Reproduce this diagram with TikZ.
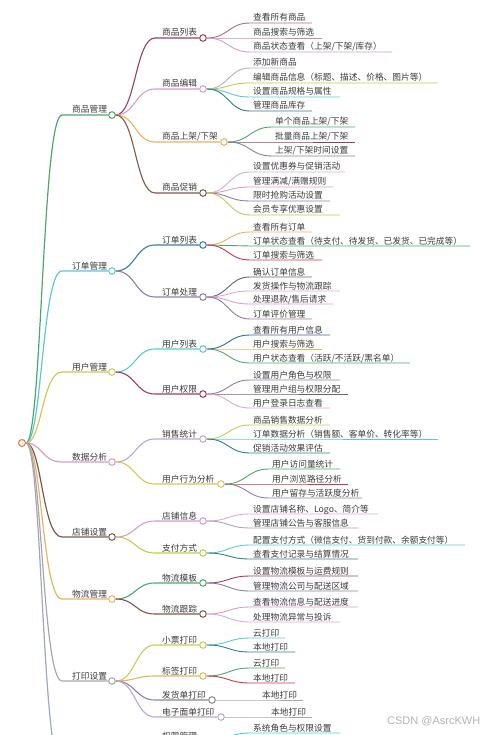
\documentclass[tikz,border=0pt]{standalone}
\usepackage{fontspec}
\newfontfamily\cjk{Noto Sans CJK SC}
\setsansfont{Liberation Sans}
\usetikzlibrary{calc}
\definecolor{txt}{HTML}{3A3A3A}
\definecolor{wm}{HTML}{B4B4B4}
\definecolor{mGreen}{HTML}{4CA86A}
\definecolor{mCyan}{HTML}{5BC8D8}
\definecolor{mYellow}{HTML}{C9CC52}
\definecolor{mPink}{HTML}{D99BC9}
\definecolor{mBrown}{HTML}{7A5A48}
\definecolor{mOrange}{HTML}{E8B35A}
\definecolor{mGrey}{HTML}{A8A8A8}
\definecolor{mBlueGrey}{HTML}{A0A8C0}
\definecolor{mMaroon}{HTML}{9C3F56}
\definecolor{mTeal}{HTML}{2F7F86}
\definecolor{mBlueTeal}{HTML}{3A7FA0}
\definecolor{mPurpleGrey}{HTML}{8E7FA0}
\definecolor{mLilac}{HTML}{BCA8D0}
\definecolor{mRed}{HTML}{C8384A}
\definecolor{mBlue}{HTML}{3A64A0}
\definecolor{mOliveY}{HTML}{D9C45A}
\definecolor{mYG}{HTML}{C2CC48}
\definecolor{mMauve}{HTML}{A86C8C}
\definecolor{mPinkGrey}{HTML}{B890A8}
\definecolor{mPinkL}{HTML}{DDA8D8}
\definecolor{mDarkGrey}{HTML}{6E6070}
\definecolor{mRoot}{HTML}{E07A50}
\newcount\leafno
\tikzset{
  dot/.style={circle,minimum size=6.6pt,inner sep=0pt,line width=1pt,fill=white},
  lbl/.style={anchor=base west,inner sep=0pt,text=txt,font=\cjk\fontsize{8.7}{10}\selectfont},
  lone/.style={line width=1.2pt},
  ltwo/.style={line width=1.1pt},
  lthree/.style={line width=0.9pt},
}
% level 1: name, y, colour, text
\newcommand\LOne[4]{%
  \node[dot,draw=#3] (#1) at (112,#2) {};
  \coordinate (#1s) at (62,#2);
  \coordinate (m) at ($(root)!.5!(#1s)$);
  \draw[lone,draw=#3] (root) .. controls (m |- root) and (m |- #1s) .. (#1s) -- (#1.west);
  \node[lbl] (#1t) at (72,#2-2) {#4};
}
% level 2: parent, name, y, colour, circle x, text
\newcommand\LTwo[6]{%
  \node[dot,draw=#4] (#2) at (#5,#3) {};
  \coordinate (#2s) at (155,#3);
  \coordinate (m) at ($(#1.east)!.5!(#2s)$);
  \draw[ltwo,draw=#4] (#1.east) .. controls (m |- #1.east) and (m |- #2s) .. (#2s) -- (#2.west);
  \node[lbl] (#2t) at (162,#3-2) {#6};
}
% leaf: parent, y, colour, text x, end x, text
\newcommand\Leaf[6]{%
  \global\advance\leafno by 1
  \coordinate (s) at (#4-3,#2);
  \coordinate (e) at (#5,#2);
  \coordinate (m) at ($(#1.east)!.5!(s)$);
  \draw[lthree,draw=#3] (#1.east) .. controls (m |- #1.east) and (m |- s) .. (s) -- (e);
  \node[lbl] (leaf\the\leafno) at (#4,#2-2) {#6};
}
\begin{document}
\begin{tikzpicture}[x=1pt,y=-1pt]
\useasboundingbox (0,0) rectangle (500,735);
\clip (0,0) rectangle (500,735);
\node[circle,minimum size=7pt,inner sep=0pt,line width=1pt,draw=mRoot,fill=orange!8] (root) at (22,443) {};

\LOne{A}{115}{mGreen}{商品管理}
\LOne{B}{271}{mCyan}{订单管理}
\LOne{C}{372}{mYellow}{用户管理}
\LOne{D}{462}{mPink}{数据分析}
\LOne{E}{537}{mBrown}{店铺设置}
\LOne{F}{599}{mOrange}{物流管理}
\LOne{G}{681}{mGrey}{打印设置}
% branch continuing below the visible area
\node[dot,draw=mBlueGrey] (H) at (112,770) {};
\coordinate (Hs) at (62,770);
\coordinate (m) at ($(root)!.5!(Hs)$);
\draw[lone,draw=mBlueGrey] (root) .. controls (m |- root) and (m |- Hs) .. (Hs) -- (H.west);

% 商品管理
\LTwo{A}{a1}{38}{mMaroon}{203}{商品列表}
\Leaf{a1}{23}{mMauve}{253}{312}{查看所有商品}
\Leaf{a1}{38}{mPinkGrey}{253}{322}{商品搜索与筛选}
\Leaf{a1}{52}{mPink}{253}{392}{商品状态查看（上架/下架/库存）}
\LTwo{A}{a2}{89}{mPink}{203}{商品编辑}
\Leaf{a2}{68}{mLilac}{253}{295}{添加新商品}
\Leaf{a2}{83}{mYG}{253}{438}{编辑商品信息（标题、描述、价格、图片等）}
\Leaf{a2}{97}{mCyan}{253}{340}{设置商品规格与属性}
\Leaf{a2}{111}{mTeal}{253}{312}{管理商品库存}
\LTwo{A}{a3}{142}{mOrange}{224}{商品上架/下架}
\Leaf{a3}{127}{mGreen}{275}{355}{单个商品上架/下架}
\Leaf{a3}{142}{mMaroon}{275}{355}{批量商品上架/下架}
\Leaf{a3}{156}{mPurpleGrey}{275}{355}{上架/下架时间设置}
\LTwo{A}{a4}{193}{mBrown}{203}{商品促销}
\Leaf{a4}{172}{mPinkL}{253}{345}{设置优惠券与促销活动}
\Leaf{a4}{187}{mPink}{253}{333}{管理满减/满赠规则}
\Leaf{a4}{201}{mPurpleGrey}{253}{330}{限时抢购活动设置}
\Leaf{a4}{215}{mYG}{253}{340}{会员专享优惠设置}

% 订单管理
\LTwo{B}{b1}{245}{mBlueTeal}{203}{订单列表}
\Leaf{b1}{232}{mOrange}{253}{312}{查看所有订单}
\Leaf{b1}{246}{mGreen}{253}{470}{订单状态查看（待支付、待发货、已发货、已完成等）}
\Leaf{b1}{260}{mRed}{253}{322}{订单搜索与筛选}
\LTwo{B}{b2}{297}{mPurpleGrey}{203}{订单处理}
\Leaf{b2}{277}{mDarkGrey}{253}{312}{确认订单信息}
\Leaf{b2}{291}{mPinkL}{253}{340}{发货操作与物流跟踪}
\Leaf{b2}{304}{mPink}{253}{333}{处理退款/售后请求}
\Leaf{b2}{319}{mPurpleGrey}{253}{312}{订单评价管理}

% 用户管理
\LTwo{C}{c1}{349}{mCyan}{203}{用户列表}
\Leaf{c1}{335}{mBlue}{253}{330}{查看所有用户信息}
\Leaf{c1}{349}{mOrange}{253}{322}{用户搜索与筛选}
\Leaf{c1}{363}{mGreen}{253}{410}{用户状态查看（活跃/不活跃/黑名单）}
\LTwo{C}{c2}{394}{mMaroon}{203}{用户权限}
\Leaf{c2}{380}{mPurpleGrey}{253}{340}{设置用户角色与权限}
\Leaf{c2}{394}{mDarkGrey}{253}{348}{管理用户组与权限分配}
\Leaf{c2}{408}{mPinkL}{253}{330}{用户登录日志查看}

% 数据分析
\LTwo{D}{d1}{439}{mLilac}{203}{销售统计}
\Leaf{d1}{425}{mYellow}{253}{330}{商品销售数据分析}
\Leaf{d1}{439}{mCyan}{253}{438}{订单数据分析（销售额、客单价、转化率等）}
\Leaf{d1}{453}{mTeal}{253}{330}{促销活动效果评估}
\LTwo{D}{d2}{484}{mOliveY}{221}{用户行为分析}
\Leaf{d2}{469}{mGreen}{272}{340}{用户访问量统计}
\Leaf{d2}{484}{mRed}{272}{348}{用户浏览路径分析}
\Leaf{d2}{498}{mPurpleGrey}{272}{362}{用户留存与活跃度分析}

% 店铺设置
\LTwo{E}{e1}{521}{mPink}{203}{店铺信息}
\Leaf{e1}{514}{mPinkL}{253}{378}{设置店铺名称、Logo、简介等}
\Leaf{e1}{528}{mGrey}{253}{358}{管理店铺公告与客服信息}
\LTwo{E}{e2}{553}{mYG}{203}{支付方式}
\Leaf{e2}{545}{mCyan}{253}{465}{配置支付方式（微信支付、货到付款、余额支付等）}
\Leaf{e2}{559}{mTeal}{253}{358}{查看支付记录与结算情况}

% 物流管理
\LTwo{F}{f1}{583}{mGreen}{203}{物流模板}
\Leaf{f1}{576}{mMaroon}{253}{358}{设置物流模板与运费规则}
\Leaf{f1}{591}{mPurpleGrey}{253}{358}{管理物流公司与配送区域}
\LTwo{F}{f2}{614}{mBrown}{203}{物流跟踪}
\Leaf{f2}{607}{mPink}{253}{358}{查看物流信息与配送进度}
\Leaf{f2}{622}{mPinkL}{253}{340}{处理物流异常与投诉}

% 打印设置
\LTwo{G}{g1}{645}{mYellow}{203}{小票打印}
\Leaf{g1}{638}{mCyan}{253}{285}{云打印}
\Leaf{g1}{652}{mTeal}{253}{295}{本地打印}
\LTwo{G}{g2}{676}{mOrange}{203}{标签打印}
\Leaf{g2}{668}{mGreen}{253}{285}{云打印}
\Leaf{g2}{683}{mRed}{253}{295}{本地打印}
\LTwo{G}{g3}{700}{mPurpleGrey}{212}{发货单打印}
\Leaf{g3}{700}{mGrey}{262}{303}{本地打印}
\LTwo{G}{g4}{717}{mLilac}{221}{电子面单打印}
\Leaf{g4}{717}{mGrey}{271}{312}{本地打印}

% partly visible branch
\LTwo{H}{h1}{741}{mTeal}{203}{权限管理}
\Leaf{h1}{733}{mCyan}{253}{340}{系统角色与权限设置}

\node[anchor=base west,inner sep=0pt,text=wm,font=\sffamily\fontsize{11}{13}\selectfont] (wmk) at (387,724) {CSDN @AsrcKWH};
\end{tikzpicture}
\end{document}
